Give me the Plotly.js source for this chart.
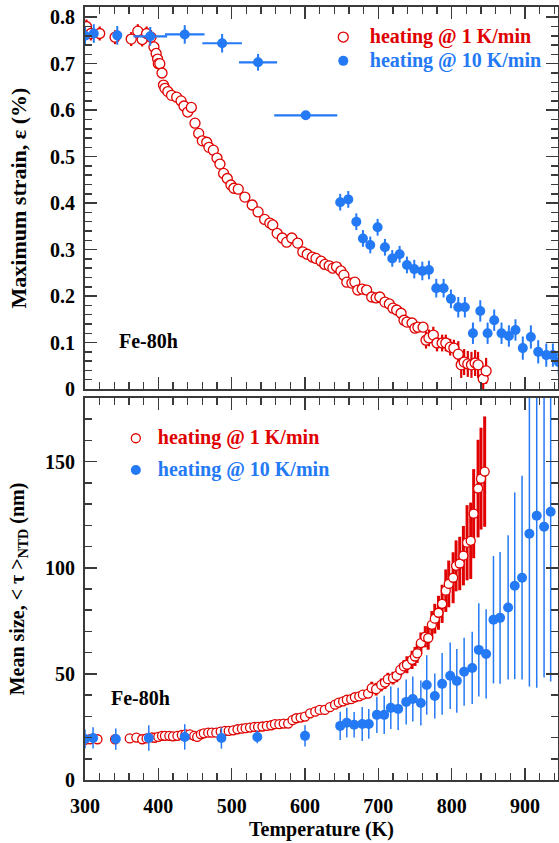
<!DOCTYPE html>
<html>
<head>
<meta charset="utf-8">
<script src="https://cdn.plot.ly/plotly-3.0.1.min.js"></script>
<style>html,body{margin:0;padding:0;background:#fff;}#chart{width:559px;height:843px;}</style>
</head>
<body>
<div id="chart"></div>
<script>
// ---- Top panel: maximum strain (%) ----
const strainT1 = [302,308,320,341,363,372,378,384,390,394,397,399,400,402,405,407,409,413,418,425,431,435,440,445,450,455,460,466,469,475,480,484,489,494,499,503,509,518,528,536,545,552,556,562,569,575,582,590,597,603,610,615,622,627,633,638,643,649,653,657,664,668,672,678,684,691,697,702,709,715,720,725,731,735,739,746,750,754,761,765,769,775,780,787,792,798,803,809,813,817,822,827,832,836,843,847];
const strain1 = [0.78,0.765,0.765,0.757,0.753,0.77,0.752,0.765,0.757,0.736,0.722,0.71,0.70,0.70,0.68,0.654,0.647,0.64,0.632,0.628,0.62,0.609,0.596,0.606,0.572,0.55,0.534,0.531,0.52,0.514,0.497,0.484,0.464,0.453,0.439,0.432,0.43,0.413,0.396,0.381,0.365,0.357,0.353,0.335,0.325,0.316,0.325,0.314,0.295,0.29,0.284,0.281,0.275,0.268,0.265,0.26,0.263,0.254,0.245,0.23,0.228,0.23,0.213,0.215,0.213,0.198,0.196,0.198,0.187,0.183,0.174,0.17,0.163,0.148,0.144,0.142,0.131,0.133,0.133,0.105,0.11,0.116,0.099,0.099,0.099,0.09,0.088,0.075,0.052,0.058,0.054,0.052,0.056,0.052,0.022,0.039];
const strainErr1 = [0.015,0.015,0.015,0.015,0.015,0.015,0.015,0.015,0.015,0.01,0.01,0.01,0.01,0.01,0.01,0.01,0.01,0.01,0.01,0.01,0.01,0.01,0.01,0.01,0.01,0.01,0.01,0.01,0.01,0.01,0.01,0.01,0.01,0.01,0.01,0.01,0.01,0.01,0.01,0.01,0.01,0.01,0.01,0.01,0.01,0.01,0.01,0.01,0.01,0.01,0.01,0.01,0.01,0.01,0.01,0.01,0.01,0.01,0.01,0.01,0.01,0.01,0.01,0.01,0.01,0.01,0.01,0.01,0.01,0.01,0.01,0.01,0.01,0.01,0.01,0.01,0.01,0.01,0.01,0.018,0.018,0.018,0.018,0.018,0.018,0.018,0.018,0.028,0.028,0.028,0.028,0.028,0.028,0.028,0.028,0.028];

const strainT10 = [300,312,344,389,436,487,536,601,648,659,670,679,689,699,709,719,729,739,749,760,769,779,789,799,809,818,829,839,849,858,868,878,887,897,908,918,929,938,946];
const strain10 = [0.76,0.765,0.761,0.759,0.763,0.744,0.703,0.589,0.402,0.408,0.36,0.324,0.31,0.348,0.305,0.281,0.29,0.267,0.258,0.254,0.256,0.217,0.217,0.194,0.176,0.176,0.12,0.168,0.12,0.148,0.12,0.114,0.127,0.088,0.112,0.08,0.073,0.073,0.058];
const strainErr10 = [0.02,0.02,0.02,0.02,0.02,0.02,0.018,0.008,0.018,0.018,0.018,0.018,0.018,0.018,0.018,0.018,0.018,0.018,0.02,0.02,0.02,0.02,0.02,0.02,0.022,0.022,0.023,0.023,0.023,0.023,0.023,0.023,0.023,0.025,0.025,0.025,0.025,0.025,0.025];
const strainTErr10 = [0,0,0,23,27,27,26,43,0,0,0,0,0,0,0,0,0,0,0,0,0,0,0,0,0,0,0,0,0,0,0,0,0,0,0,0,0,0,0];

// ---- Bottom panel: mean size <tau>_NTD (nm) ----
const sizeT1 = [300,307,317,341,361,370,378,384,391,395,400,405,409,415,420,426,432,437,443,449,453,458,462,468,473,479,485,491,496,502,508,514,519,525,531,536,542,548,554,559,565,571,577,583,588,594,600,607,614,620,627,634,641,646,652,657,663,668,674,679,686,691,697,704,709,713,720,725,730,735,739,746,750,753,758,764,768,773,777,782,787,792,796,802,806,811,816,821,826,830,836,840,845];
const size1 = [18.9,19.2,19.2,19.2,19.6,20,19.2,19.6,20.1,19.9,20.3,20.8,20.8,20.8,20.6,20.8,21.2,21.5,21.5,20.8,20.3,21.5,22,22.3,22.3,22.3,22.8,23.1,23.1,23.4,23.9,24.2,24.4,24.7,25,25,25.2,25.5,25.8,26.3,26.3,26.6,26.6,28.2,29.1,29.4,29.9,31.4,32.2,33,33,34.3,35.5,36.5,37,37.8,38.1,39,39.4,40.2,40.7,43.3,42.8,44.8,45.9,47.5,48,49.1,51.9,53.5,54.3,56.6,58.2,59.7,64.5,67.5,66.9,73.1,76,78.8,83,89.2,92.4,95.3,100.9,102,105.7,111.8,112.7,125.5,137.3,142,145.3];
const sizeErr1 = [1.2,1.2,1.2,1.2,1.2,1.2,1.2,1.2,1.2,1.2,1.2,1.2,1.2,1.2,1.2,1.2,1.2,1.2,1.2,1.2,1.2,1.2,1.2,1.2,1.2,1.2,1.2,1.2,1.2,1.2,1.2,1.2,1.2,1.2,1.2,1.2,1.2,1.2,1.2,1.2,2,2,2,2,2,2,2,2,2,2,2,2,2,2,2,2,2,2,2,2,2,3,3,3,3,3,3,3,3,3,4,4.3,4.5,4.5,5,5,5.5,6.5,7,8,9,10,11,12,12,12.6,14,17.7,18,21,23,24,26];

const sizeT10 = [300,311,342,387,436,486,535,600,648,657,667,678,687,698,708,717,727,738,747,758,766,777,787,798,807,817,828,837,847,857,866,877,886,896,906,916,926,935];
const size10 = [19.3,19.8,19.3,19.8,20.3,19.8,20.3,20.8,25.5,27,26,26.4,26.4,30.7,30.7,34,33.5,36.8,38.2,36.3,44.8,39.6,45.3,49.1,46.7,51,52.8,61.3,59.4,75.5,76.4,81.3,91.5,95.3,116,124.5,119.3,126.4];
const sizeErr10 = [4.5,5,5,6,6,5,3,5,6.7,7,6,8,7,8.5,9,10,10,10.6,10.6,10.6,14,10.6,14.5,15.7,15,16,17,22,21,30,31,34,44,48,72,81,71,80];

const seriesNames = ['heating @ 1 K/min', 'heating @ 10 K/min'];
const sampleLabel = 'Fe-80h';

const RED = '#e00000';
const BLUE = '#2479f5';
const AX = '#3a3a3a';
const FONT = 'Liberation Serif, Times New Roman, serif';

function legendName(txt, col) {
  return '<span style="color:' + col + ';font-size:20px">' + txt + '</span>';
}

const traces = [
  {
    x: strainT1, y: strain1, xaxis: 'x', yaxis: 'y', type: 'scatter', mode: 'markers',
    name: legendName(seriesNames[0], RED),
    legend: 'legend', legendgroup: 'a',
    marker: {symbol: 'circle', size: 10, color: 'white', line: {color: RED, width: 1.3}},
    error_y: {type: 'data', array: strainErr1, visible: true, color: RED, thickness: 2.2, width: 0}
  },
  {
    x: strainT10, y: strain10, xaxis: 'x', yaxis: 'y', type: 'scatter', mode: 'markers',
    name: legendName(seriesNames[1], BLUE),
    legend: 'legend', legendgroup: 'b',
    marker: {symbol: 'circle', size: 10, color: BLUE},
    error_y: {type: 'data', array: strainErr10, visible: true, color: BLUE, thickness: 2, width: 0},
    error_x: {type: 'data', array: strainTErr10, visible: true, color: BLUE, thickness: 2.2, width: 0}
  },
  {
    x: sizeT1, y: size1, xaxis: 'x2', yaxis: 'y2', type: 'scatter', mode: 'markers',
    name: legendName(seriesNames[0], RED),
    legend: 'legend2', legendgroup: 'c',
    marker: {symbol: 'circle', size: 9, color: 'white', line: {color: RED, width: 1.3}},
    error_y: {type: 'data', array: sizeErr1, visible: true, color: RED, thickness: 3, width: 0}
  },
  {
    x: sizeT10, y: size10, xaxis: 'x2', yaxis: 'y2', type: 'scatter', mode: 'markers',
    name: legendName(seriesNames[1], BLUE),
    legend: 'legend2', legendgroup: 'd',
    marker: {symbol: 'circle', size: 10, color: BLUE},
    error_y: {type: 'data', array: sizeErr10, visible: true, color: BLUE, thickness: 1.5, width: 0}
  }
];

function xAxis(extra) {
  return Object.assign({
    range: [300, 945], tick0: 300, dtick: 100,
    ticks: 'inside', ticklen: 12, tickwidth: 1.5, tickcolor: AX,
    showline: true, linecolor: AX, linewidth: 2, mirror: 'ticks',
    showgrid: false, zeroline: false,
    tickfont: {family: FONT, size: 20, color: 'black', weight: 'bold'},
    minor: {dtick: 20, ticks: 'inside', ticklen: 7, tickwidth: 1.5, tickcolor: AX, showgrid: false}
  }, extra);
}
function yAxis(extra) {
  return Object.assign({
    ticks: 'inside', ticklen: 12, tickwidth: 1.5, tickcolor: AX,
    showline: true, linecolor: AX, linewidth: 2, mirror: 'ticks',
    showgrid: false, zeroline: false,
    tickfont: {family: FONT, size: 20, color: 'black', weight: 'bold'},
    ticklabelstandoff: 4
  }, extra);
}

const layout = {
  width: 559, height: 843,
  margin: {l: 85, r: 1, t: 7, b: 63},
  paper_bgcolor: 'white', plot_bgcolor: 'white',
  font: {family: FONT, size: 20, color: 'black', weight: 'bold'},
  showlegend: true,
  xaxis: xAxis({anchor: 'y', showticklabels: false}),
  xaxis2: xAxis({anchor: 'y2', ticklabelstandoff: 7,
    title: {text: 'Temperature (K)', standoff: 6, font: {family: FONT, size: 20, weight: 'bold', color: 'black'}}}),
  yaxis: yAxis({anchor: 'x', domain: [0.5058, 1], range: [0, 0.822], tick0: 0, dtick: 0.1,
    minor: {dtick: 0.02, ticks: 'inside', ticklen: 7, tickwidth: 1.5, tickcolor: AX, showgrid: false},
    title: {text: 'Maximum strain, ε (%)', standoff: 17, font: {family: FONT, size: 22, weight: 'bold', color: 'black'}}}),
  yaxis2: yAxis({anchor: 'x2', domain: [0, 0.4942], range: [0, 180], tick0: 0, dtick: 50,
    minor: {dtick: 10, ticks: 'inside', ticklen: 7, tickwidth: 1.5, tickcolor: AX, showgrid: false},
    title: {text: 'Mean size, &lt; τ &gt;<sub>NTD</sub> (nm)', standoff: 15, font: {family: FONT, size: 20, weight: 'bold', color: 'black'}}}),
  legend: {
    x: 0.49, y: 0.983, xref: 'paper', yref: 'paper', xanchor: 'left', yanchor: 'top',
    bgcolor: 'rgba(0,0,0,0)', borderwidth: 0, itemwidth: 43, tracegroupgap: 0,
    font: {family: FONT, size: 16, weight: 'bold'}
  },
  legend2: {
    x: 0.061, y: 0.464, xref: 'paper', yref: 'paper', xanchor: 'left', yanchor: 'top',
    bgcolor: 'rgba(0,0,0,0)', borderwidth: 0, itemwidth: 34, tracegroupgap: 8,
    font: {family: FONT, size: 16, weight: 'bold'}
  },
  annotations: [
    {x: 386, y: 0.103, xref: 'x', yref: 'y', text: sampleLabel, showarrow: false,
     font: {family: FONT, size: 20, weight: 'bold', color: 'black'}},
    {x: 375, y: 38.7, xref: 'x2', yref: 'y2', text: sampleLabel, showarrow: false,
     font: {family: FONT, size: 20, weight: 'bold', color: 'black'}}
  ]
};

Plotly.newPlot('chart', traces, layout, {displayModeBar: false, staticPlot: true});
</script>
</body>
</html>
